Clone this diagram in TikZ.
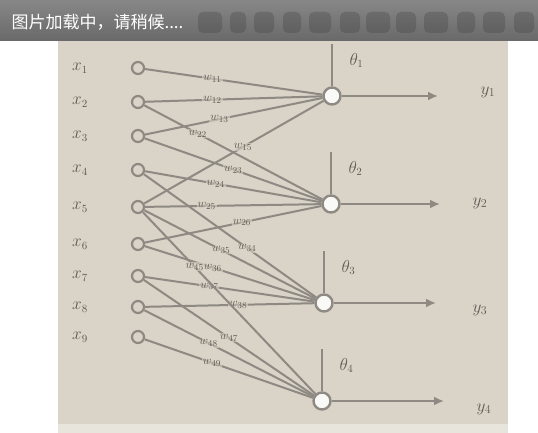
\documentclass[tikz,border=0pt]{standalone}
\usepackage{fontspec}
\newfontfamily\cjk{Noto Sans CJK SC}
\usetikzlibrary{arrows.meta}
\definecolor{paper}{HTML}{D9D4C7}
\definecolor{ink}{HTML}{5E5A53}
\definecolor{wire}{HTML}{8E8A83}
\definecolor{banner}{HTML}{727272}
\begin{document}
\begin{tikzpicture}[x=1pt,y=-1pt,
  inlab/.style={text=ink,font=\fontsize{16}{17}\selectfont},
  incirc/.style={circle,draw=wire,line width=2.2pt,fill=paper,minimum size=12pt,inner sep=0pt},
  neuron/.style={circle,draw=wire,line width=2.4pt,fill=white!85!paper,minimum size=17pt,inner sep=0pt},
  wlab/.style={text=ink,font=\fontsize{13}{14}\selectfont,inner sep=1pt,fill=paper,fill opacity=0.6,text opacity=1},
  conn/.style={draw=wire,line width=2pt},
  outarr/.style={draw=wire,line width=2.2pt,-{Latex[length=10pt,width=9pt]}},
  thr/.style={draw=wire,line width=2pt},
  thlab/.style={text=ink,font=\fontsize{16}{17}\selectfont},
  outlab/.style={text=ink,font=\fontsize{18}{19}\selectfont}]
\useasboundingbox (0,0) rectangle (538,433);
\fill[white] (0,0) rectangle (538,433);
\fill[paper] (58,41) rectangle (508,424);
\fill[paper!60!white] (58,424) rectangle (508,433);
% banner
\shade[top color=banner!85!white,bottom color=banner!92!black] (0,0) rectangle (538,41);
\foreach \bx/\bw in {210/12,238/8,264/10,292/9,320/11,350/10,378/12,406/10,436/12,466/9,494/11,524/10}
  \fill[black!75,opacity=0.3,rounded corners=5pt] (\bx-\bw,12) rectangle (\bx+\bw,33);
\node[anchor=west,text=white,font=\cjk\fontsize{17}{18}\selectfont] (ban) at (8,22) {图片加载中，请稍候....};
% inputs
\foreach \i/\y in {1/68,2/102,3/136,4/170,5/207,6/244,7/276,8/307,9/337}{
  \node[inlab] (x\i) at (80,\y) {$x_{\i}$};
  \node[incirc] (c\i) at (138,\y) {};
}
% neurons
\node[neuron] (n1) at (332,96) {};
\node[neuron] (n2) at (331,204) {};
\node[neuron] (n3) at (324,303) {};
\node[neuron] (n4) at (322,401) {};
% connections input -> neuron with weight labels
\foreach \i/\j/\p in {1/1/0.38,2/1/0.38,3/1/0.42,5/1/0.55,
                     2/2/0.3,3/2/0.5,4/2/0.4,5/2/0.35,6/2/0.55,
                     4/3/0.6,5/3/0.45,6/3/0.4,7/3/0.38,8/3/0.55,
                     5/4/0.3,7/4/0.5,8/4/0.38,9/4/0.4}{
  \draw[conn] (c\i) -- (n\j) node[wlab,pos=\p] {$w_{\j\i}$};
}
% thresholds and outputs
\foreach \k/\ox/\lx/\ly in {1/438/488/92,2/440/480/203,3/436/480/310,4/444/484/409}{
  \coordinate (t\k) at ([yshift=42pt]n\k.north);
  \draw[thr] (t\k) -- (n\k.north);
  \node[thlab,anchor=west] (th\k) at ([xshift=14pt,yshift=-16pt]t\k) {$\theta_{\k}$};
  \coordinate (o\k) at (\ox,0|-n\k);
  \draw[outarr] (n\k.east) -- (o\k);
  \node[outlab] (y\k) at (\lx,\ly) {$y_{\k}$};
}
\end{tikzpicture}
\end{document}
